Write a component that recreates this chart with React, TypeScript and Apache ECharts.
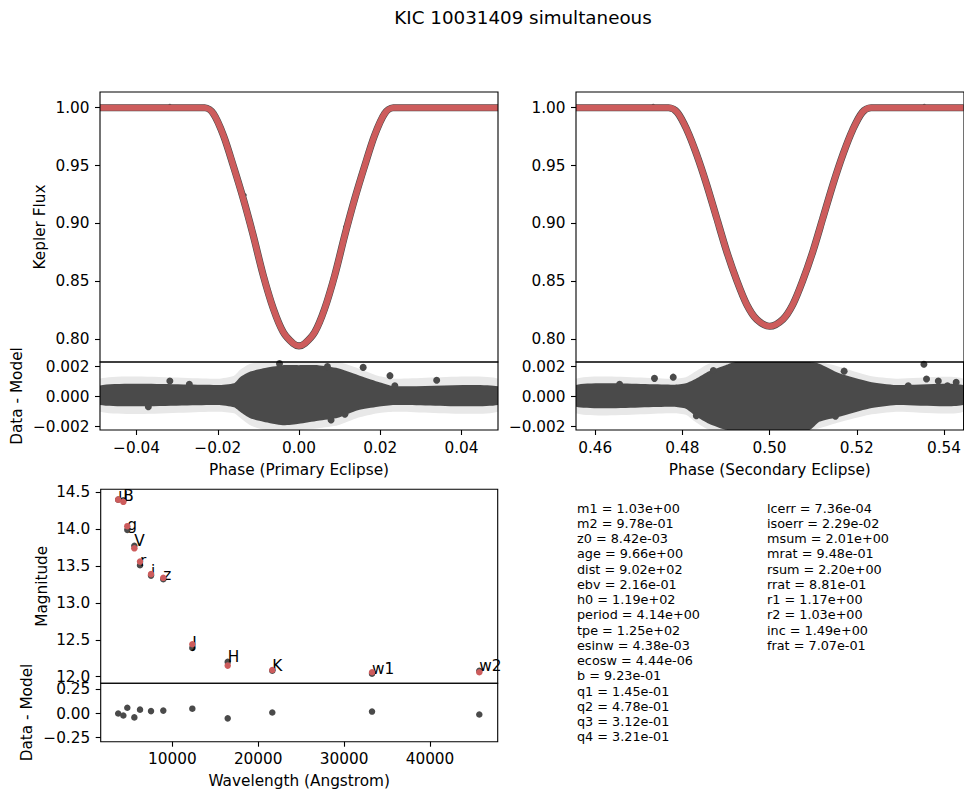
import React, { useEffect, useRef } from 'react';
import * as echarts from 'echarts';

const TITLE = 'KIC 10031409 simultaneous';
const FONT = 'DejaVu Sans';
const RED = '#cd5c5c';
const DARK = '#4a4a4a';
const LIGHT = '#e8e8e8';

// ---- Primary eclipse: model curve (phase, flux)
const primaryPhase = [-0.049, -0.0232, -0.0211, -0.0186, -0.0162, -0.0137, -0.0113, -0.0088, -0.0063, -0.0039, -0.0014, 0, 0.0014, 0.0039, 0.0063, 0.0088, 0.0113, 0.0137, 0.0162, 0.0186, 0.0211, 0.0232, 0.049];
const primaryFlux = [1.0, 1.0, 0.995, 0.976, 0.95, 0.921, 0.89, 0.855, 0.826, 0.806, 0.796, 0.794, 0.796, 0.806, 0.826, 0.855, 0.89, 0.921, 0.95, 0.976, 0.995, 1.0, 1.0];
const primaryStray = [[-0.0133, 0.9245], [0.0113, 0.897], [-0.0318, 1.002]];

// ---- Secondary eclipse: model curve
const secPhase = [0.4556, 0.4768, 0.4788, 0.481, 0.4832, 0.4855, 0.4878, 0.4901, 0.4924, 0.4947, 0.497, 0.5, 0.503, 0.5053, 0.5076, 0.5099, 0.5122, 0.5145, 0.5168, 0.519, 0.5212, 0.5232, 0.5444];
const secFlux = [1.0, 1.0, 0.996, 0.981, 0.96, 0.934, 0.905, 0.876, 0.851, 0.83, 0.817, 0.811, 0.817, 0.83, 0.851, 0.876, 0.905, 0.934, 0.96, 0.981, 0.996, 1.0, 1.0];
const secStray = [[0.4733, 1.002], [0.5354, 1.002]];

// ---- Primary residual envelopes (dark points band, light error-bar band)
const pResPhase = [-0.049, -0.02, -0.016, -0.0145, -0.012, -0.0088, -0.004, 0, 0.0047, 0.0096, 0.0145, 0.0194, 0.0235, 0.049];
const pResHigh = [0.00075, 0.00078, 0.0009, 0.0013, 0.00167, 0.0019, 0.0021, 0.0021, 0.0021, 0.0019, 0.00145, 0.001, 0.0007, 0.0007];
const pResLow = [-0.00055, -0.00055, -0.0007, -0.001, -0.00144, -0.00167, -0.0019, -0.0018, -0.0016, -0.0014, -0.0009, -0.00067, -0.00055, -0.00055];
const pErrHigh = [0.0012, 0.0012, 0.0014, 0.0018, 0.0022, 0.0025, 0.0027, 0.0027, 0.0027, 0.0025, 0.0019, 0.0014, 0.0012, 0.0012];
const pErrLow = [-0.001, -0.001, -0.0011, -0.0014, -0.0019, -0.0022, -0.0024, -0.0023, -0.0021, -0.0019, -0.0014, -0.0011, -0.001, -0.001];
const pOutliers = [[-0.0371, -0.00067], [-0.0318, 0.00105], [-0.027, 0.00083], [-0.0048, 0.0022], [0.007, 0.002], [0.0079, -0.00155], [0.0113, -0.00117], [0.0158, 0.00195], [0.0224, 0.0014], [0.0236, 0.00073], [0.0339, 0.0011]];

// ---- Secondary residual envelopes
const sResPhase = [0.4556, 0.478, 0.4808, 0.4831, 0.4861, 0.4899, 0.4922, 0.5091, 0.5114, 0.516, 0.5229, 0.529, 0.5444];
const sResHigh = [0.00078, 0.0008, 0.0009, 0.0012, 0.0017, 0.0021, 0.0024, 0.0024, 0.0022, 0.00156, 0.001, 0.00078, 0.00078];
const sResLow = [-0.00067, -0.00067, -0.0008, -0.0013, -0.0018, -0.0022, -0.0024, -0.0024, -0.00167, -0.00133, -0.00078, -0.00055, -0.00055];
const sErrHigh = [0.0012, 0.0012, 0.0013, 0.0017, 0.0022, 0.0026, 0.003, 0.003, 0.0027, 0.002, 0.0014, 0.0012, 0.0012];
const sErrLow = [-0.0011, -0.0011, -0.0012, -0.0017, -0.0022, -0.0026, -0.003, -0.003, -0.0021, -0.0017, -0.0012, -0.001, -0.001];
const sOutliers = [[0.4656, 0.00083], [0.4736, 0.00122], [0.4779, 0.0013], [0.4871, 0.00174], [0.4832, -0.00127], [0.5171, 0.0017], [0.5151, -0.0013], [0.5318, 0.00073], [0.5354, 0.00216], [0.536, 0.00118], [0.5387, 0.00105], [0.5408, 0.00073], [0.5428, 0.00096]];

// ---- SED
const bandNames = ['u', 'B', 'g', 'V', 'r', 'i', 'z', 'J', 'H', 'K', 'w1', 'w2'];
const wavelength = [3700, 4300, 4760, 5580, 6240, 7520, 8950, 12330, 16450, 21640, 33250, 45740];
const magData = [14.4, 14.37, 14.04, 13.74, 13.56, 13.39, 13.34, 12.44, 12.15, 12.09, 12.06, 12.06];
const magModel = [14.4, 14.39, 13.99, 13.775, 13.51, 13.37, 13.32, 12.39, 12.2, 12.08, 12.04, 12.08];
const magResid = [0.0, -0.02, 0.06, -0.04, 0.04, 0.025, 0.03, 0.05, -0.05, 0.01, 0.02, -0.01];

// ---- Tick values
const fluxTicks = [0.8, 0.85, 0.9, 0.95, 1.0];
const resTicks = [-0.002, 0, 0.002];
const primTicks = [-0.04, -0.02, 0, 0.02, 0.04];
const secTicks = [0.46, 0.48, 0.5, 0.52, 0.54];
const magTicks = [12, 12.5, 13, 13.5, 14, 14.5];
const magResTicks = [-0.25, 0, 0.25];
const wlTicks = [10000, 20000, 30000, 40000];

// ---- Parameters text
const paramNamesL = ['m1', 'm2', 'z0', 'age', 'dist', 'ebv', 'h0', 'period', 'tpe', 'esinw', 'ecosw', 'b', 'q1', 'q2', 'q3', 'q4'];
const paramValsL = ['1.03e+00', '9.78e-01', '8.42e-03', '9.66e+00', '9.02e+02', '2.16e-01', '1.19e+02', '4.14e+00', '1.25e+02', '4.38e-03', '4.44e-06', '9.23e-01', '1.45e-01', '4.78e-01', '3.12e-01', '3.21e-01'];
const paramNamesR = ['lcerr', 'isoerr', 'msum', 'mrat', 'rsum', 'rrat', 'r1', 'r2', 'inc', 'frat'];
const paramValsR = ['7.36e-04', '2.29e-02', '2.01e+00', '9.48e-01', '2.20e+00', '8.81e-01', '1.17e+00', '1.03e+00', '1.49e+00', '7.07e-01'];

const fmt = (d: number) => (v: number) => {
  const s = Math.abs(v).toFixed(d);
  return v < -1e-12 ? '\u2212' + s : s;
};

function valueAxis(gridIndex: number, min: number, max: number, ticks: number[] | null, formatter: any, extra: any = {}) {
  const show = ticks !== null;
  return {
    type: 'value',
    gridIndex,
    min,
    max,
    show,
    axisLine: { show: false, onZero: false },
    axisTick: { show, length: 5, inside: false, lineStyle: { color: '#000', width: 1.1 }, customValues: ticks || [] },
    axisLabel: { show, customValues: ticks || [], formatter, color: '#000', fontSize: 15.3, fontFamily: FONT, margin: 10 },
    splitLine: { show: false },
    ...extra,
  };
}

function nameStyle() {
  return { color: '#000', fontSize: 15.3, fontFamily: FONT };
}

function bandSeries(xIdx: number, yIdx: number, xs: number[], lo: number[], hi: number[], color: string, z: number) {
  return {
    type: 'custom',
    xAxisIndex: xIdx,
    yAxisIndex: yIdx,
    z,
    clip: true,
    silent: true,
    data: xs.map((x, i) => [x, hi[i], lo[i]]),
    encode: { x: 0, y: 1 },
    renderItem: (params: any, api: any) => {
      if (params.dataIndex !== 0) return null;
      const cs = params.coordSys;
      const cy = (y: number) => Math.max(cs.y, Math.min(cs.y + cs.height, y));
      const top = xs.map((x, i) => {
        const p = api.coord([x, hi[i]]);
        return [p[0], cy(p[1])];
      });
      const bot = xs
        .map((x, i) => {
          const p = api.coord([x, lo[i]]);
          return [p[0], cy(p[1])];
        })
        .reverse();
      return { type: 'polygon', shape: { points: top.concat(bot), smooth: 0.2 }, style: { fill: color } };
    },
  };
}

function lineSeries(xIdx: number, yIdx: number, xs: number[], ys: number[], color: string, width: number, z: number) {
  return {
    type: 'line',
    xAxisIndex: xIdx,
    yAxisIndex: yIdx,
    data: xs.map((x, i) => [x, ys[i]]),
    showSymbol: false,
    symbol: 'none',
    smooth: 0.3,
    lineStyle: { color, width, cap: 'butt', join: 'round' },
    z,
    silent: true,
  };
}

function dots(xIdx: number, yIdx: number, data: number[][], color: string, size: number, z: number, extra: any = {}) {
  return {
    type: 'scatter',
    xAxisIndex: xIdx,
    yAxisIndex: yIdx,
    data,
    symbol: 'circle',
    symbolSize: size,
    itemStyle: { color, opacity: 1 },
    z,
    silent: true,
    ...extra,
  };
}

export default function App() {
  const ref = useRef<HTMLDivElement>(null);

  useEffect(() => {
    document.body.style.margin = '0';
    if (!ref.current) return;
    const chart = echarts.init(ref.current, undefined, { renderer: 'svg' });

    const gridBase = { show: true, borderColor: '#000', borderWidth: 1.1, backgroundColor: 'transparent', z: 5, containLabel: false };
    const grid = [
      { ...gridBase, left: 100, top: 92, width: 398, height: 270 },
      { ...gridBase, left: 100, top: 362, width: 398, height: 68 },
      { ...gridBase, left: 576, top: 92, width: 389, height: 270 },
      { ...gridBase, left: 576, top: 362, width: 389, height: 68 },
      { ...gridBase, left: 100.7, top: 489.3, width: 397, height: 194 },
      { ...gridBase, left: 100.7, top: 683.3, width: 397, height: 58.4 },
    ];

    const xAxis = [
      valueAxis(0, -0.049, 0.049, null, null),
      valueAxis(1, -0.049, 0.049, primTicks, fmt(2), {
        name: 'Phase (Primary Eclipse)', nameLocation: 'middle', nameGap: 32, nameTextStyle: nameStyle(),
      }),
      valueAxis(2, 0.4556, 0.5445, null, null),
      valueAxis(3, 0.4556, 0.5445, secTicks, fmt(2), {
        name: 'Phase (Secondary Eclipse)', nameLocation: 'middle', nameGap: 32, nameTextStyle: nameStyle(),
      }),
      valueAxis(4, 1663, 47882, null, null),
      valueAxis(5, 1663, 47882, wlTicks, (v: number) => String(Math.round(v)), {
        name: 'Wavelength (Angstrom)', nameLocation: 'middle', nameGap: 32, nameTextStyle: nameStyle(),
      }),
    ];

    const yLbl = (a: any) => ({ ...a, axisLabel: { ...a.axisLabel, margin: 10.5 } });
    const yAxis = [
      yLbl(valueAxis(0, 0.7801, 1.0136, fluxTicks, fmt(2), {
        name: 'Kepler Flux', nameLocation: 'middle', nameGap: 53, nameTextStyle: nameStyle(),
      })),
      yLbl(valueAxis(1, -0.00222, 0.00231, resTicks, fmt(3), {
        name: 'Data - Model', nameLocation: 'middle', nameGap: 75.6, nameTextStyle: nameStyle(),
      })),
      yLbl(valueAxis(2, 0.7801, 1.0136, fluxTicks, fmt(2))),
      yLbl(valueAxis(3, -0.00222, 0.00231, resTicks, fmt(3))),
      yLbl(valueAxis(4, 11.91, 14.54, magTicks, fmt(1), {
        name: 'Magnitude', nameLocation: 'middle', nameGap: 51.4, nameTextStyle: nameStyle(),
      })),
      yLbl(valueAxis(5, -0.291, 0.312, magResTicks, fmt(2), {
        name: 'Data - Model', nameLocation: 'middle', nameGap: 66.4, nameTextStyle: nameStyle(),
      })),
    ];

    const series: any[] = [
      // primary light curve
      lineSeries(0, 0, primaryPhase, primaryFlux, DARK, 7.2, 2),
      lineSeries(0, 0, primaryPhase, primaryFlux, RED, 6, 3),
      dots(0, 0, primaryStray, DARK, 3.5, 1),
      // primary residuals
      bandSeries(1, 1, pResPhase, pErrLow, pErrHigh, LIGHT, 1),
      bandSeries(1, 1, pResPhase, pResLow, pResHigh, DARK, 2),
      dots(1, 1, pOutliers, DARK, 7, 3),
      // secondary light curve
      lineSeries(2, 2, secPhase, secFlux, DARK, 7.2, 2),
      lineSeries(2, 2, secPhase, secFlux, RED, 6, 3),
      dots(2, 2, secStray, DARK, 3.5, 1),
      // secondary residuals
      bandSeries(3, 3, sResPhase, sErrLow, sErrHigh, LIGHT, 1),
      bandSeries(3, 3, sResPhase, sResLow, sResHigh, DARK, 2),
      dots(3, 3, sOutliers, DARK, 7, 3),
      // SED model (grey) with band labels, data (red) on top
      dots(4, 4, wavelength.map((w, i) => [w, magModel[i]]), DARK, 6.5, 2, {
        label: {
          show: true,
          formatter: (p: any) => bandNames[p.dataIndex],
          position: ['50%', '50%'],
          align: 'left',
          verticalAlign: 'bottom',
          offset: [0, 3],
          color: '#000',
          fontSize: 15.3,
          fontFamily: FONT,
        },
      }),
      dots(4, 4, wavelength.map((w, i) => [w, magData[i]]), RED, 6.5, 3),
      dots(5, 5, wavelength.map((w, i) => [w, magResid[i]]), DARK, 6.5, 3),
    ];

    const textL = paramNamesL.map((n, i) => `${n} = ${paramValsL[i]}`).join('\n');
    const textR = paramNamesR.map((n, i) => `${n} = ${paramValsR[i]}`).join('\n');
    const paramStyle = { fill: '#000', fontSize: 12.8, fontFamily: FONT, lineHeight: 15.23, align: 'left', verticalAlign: 'top' };

    chart.setOption({
      animation: false,
      backgroundColor: '#fff',
      grid,
      xAxis,
      yAxis,
      series,
      graphic: [
        { type: 'text', x: 523, y: 17, style: { text: TITLE, fill: '#000', fontSize: 18.3, fontFamily: FONT, align: 'center', verticalAlign: 'middle' } },
        { type: 'text', x: 577, y: 500.7, style: { ...paramStyle, text: textL } },
        { type: 'text', x: 767, y: 500.7, style: { ...paramStyle, text: textR } },
      ],
    });

    return () => chart.dispose();
  }, []);

  return <div ref={ref} style={{ position: 'absolute', left: 0, top: 0, width: 964, height: 792 }} />;
}
